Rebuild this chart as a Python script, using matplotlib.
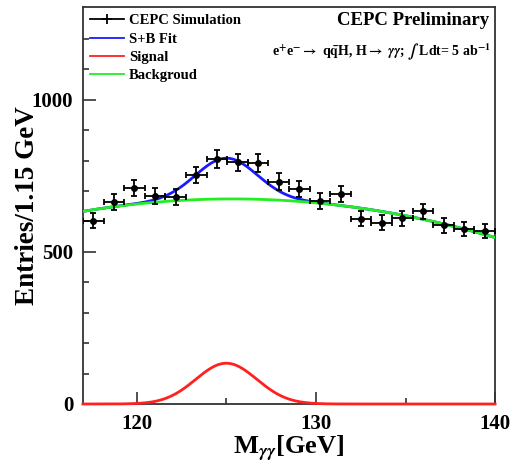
import numpy as np
import matplotlib
matplotlib.use("Agg")
from matplotlib import pyplot as plt
from matplotlib.lines import Line2D

plt.rcParams['font.family'] = ['Liberation Serif', 'DejaVu Serif']
plt.rcParams['font.weight'] = 'bold'
plt.rcParams['axes.labelweight'] = 'bold'
plt.rcParams['mathtext.fontset'] = 'stix'

# binned data, 20 bins of 1.15 GeV from 117 to 140
bin_edges = np.linspace(117.0, 140.0, 21)
counts = [602, 663, 709, 684, 680, 753, 805, 795, 792, 731,
          706, 668, 690, 609, 596, 611, 633, 587, 575, 569]

# fit parameters
sig_amp, sig_mean, sig_sigma = 134.0, 125.0, 1.7
bkg_center = 125.5
bkg_coef = [-0.59, -0.20, 674.0]   # quadratic in (m - bkg_center)

centers = 0.5 * (bin_edges[:-1] + bin_edges[1:])
half_w = 0.5 * (bin_edges[1] - bin_edges[0])
counts = np.array(counts, dtype=float)

m = np.linspace(117.0, 140.0, 500)
signal = sig_amp * np.exp(-0.5 * ((m - sig_mean) / sig_sigma) ** 2)
background = np.polyval(bkg_coef, m - bkg_center)
total = signal + background

fig = plt.figure(figsize=(5.12, 4.69), dpi=100)
ax = fig.add_axes([0.162, 0.1386, 0.805, 0.8466])

ax.plot(m, total, color='#1a1aff', lw=2, zorder=2)
ax.plot(m, background, color='#22ee22', lw=2, zorder=3)
ax.plot(m, signal, color='#ff2020', lw=2, zorder=3, clip_on=False)
ax.errorbar(centers, counts, xerr=half_w, yerr=np.sqrt(counts), fmt='o',
            color='black', ms=4, elinewidth=1.3, capsize=2, capthick=1.3,
            zorder=4)

ax.set_xlim(117.0, 140.0)
ax.set_ylim(0, 1305)
ax.set_xticks([120, 130, 140])
ax.set_xticks([125, 135], minor=True)
ax.set_yticks([0, 500, 1000])
ax.set_yticks([y for y in range(100, 1300, 100) if y % 500], minor=True)
ax.tick_params(which='both', direction='in', labelsize=15, width=1.2,
               color='#333333', pad=7)
ax.tick_params(which='major', length=9)
ax.tick_params(which='minor', length=4.5)
for s in ax.spines.values():
    s.set_linewidth(1.3)
    s.set_color('#333333')

ax.set_xlabel(r'M$_{\gamma\gamma}$[GeV]', fontsize=19, labelpad=0)
ax.set_ylabel('Entries/1.15 GeV', fontsize=19.5, labelpad=-6)

handles = [
    Line2D([], [], color='black', marker='+', ms=7, mew=1.3, lw=1.3),
    Line2D([], [], color='#1a1aff', lw=1.3),
    Line2D([], [], color='#ff2020', lw=1.3),
    Line2D([], [], color='#22ee22', lw=1.3),
]
labels = ['CEPC Simulation', 'S+B Fit', 'Signal', 'Backgroud']
ax.legend(handles, labels, loc='upper left', frameon=False, fontsize=10.5,
          handlelength=2.3, handletextpad=0.35, labelspacing=0.34,
          borderaxespad=0.1, bbox_to_anchor=(0.0, 1.0))

ax.text(0.985, 0.965, 'CEPC Preliminary', transform=ax.transAxes,
        ha='right', va='center', fontsize=13.5)
ax.text(0.99, 0.885,
        r'e$^{+}$e$^{-}$$\rightarrow$ q$\bar{\rm q}$H, H$\rightarrow$ $\gamma\gamma$; $\int$ Ldt= 5 ab$^{-1}$',
        transform=ax.transAxes, ha='right', va='center', fontsize=10)

fig.savefig('out.png', dpi=100)
